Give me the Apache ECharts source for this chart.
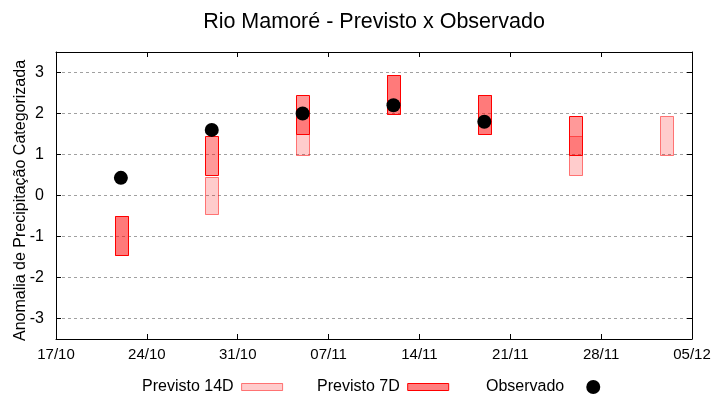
<!DOCTYPE html>
<html>
<head>
<meta charset="utf-8">
<script src="https://cdn.jsdelivr.net/npm/echarts@6/dist/echarts.min.js"></script>
<style>html,body{margin:0;padding:0;background:#fff}#c{width:720px;height:400px}</style>
</head>
<body>
<div id="c"></div>
<script>
// ---- data ----
const startDate = '17/10';
const tickLabels = ['17/10', '24/10', '31/10', '07/11', '14/11', '21/11', '28/11', '05/12'];
const dates = ['22/10', '29/10', '05/11', '12/11', '19/11', '26/11', '03/12'];
const fc14Low  = [-1.45, -0.45, 1.0, 2.0, 1.5, 0.5, 1.0];
const fc14High = [-0.5, 0.45, 1.95, 2.95, 2.45, 1.45, 1.95];
const fc7Low   = [-1.45, 0.5, 1.5, 2.0, 1.5, 1.0, null];
const fc7High  = [-0.5, 1.45, 2.45, 2.95, 2.45, 1.95, null];
const observed = [0.43, 1.6, 2.0, 2.2, 1.8, null, null];
const yTicks = [-3, -2, -1, 0, 1, 2, 3];

function dayOffset(s) {
  const [d, m] = s.split('/').map(Number);
  const [d0, m0] = startDate.split('/').map(Number);
  return Math.round((Date.UTC(2024, m - 1, d) - Date.UTC(2024, m0 - 1, d0)) / 86400000);
}
const xs = dates.map(dayOffset);
const xMax = dayOffset(tickLabels[tickLabels.length - 1]);

function boxData(lo, hi) {
  const out = [];
  xs.forEach((x, i) => { if (lo[i] != null && hi[i] != null) out.push([x, lo[i], hi[i]]); });
  return out;
}
function boxRenderer(fill, stroke) {
  return function (params, api) {
    const x = api.value(0), lo = api.value(1), hi = api.value(2);
    const p1 = api.coord([x, hi]);
    const p2 = api.coord([x, lo]);
    const w = api.size([1, 0])[0] * 0.97;
    return {
      type: 'rect',
      shape: { x: Math.round(p1[0] - w / 2) + 0.5, y: Math.round(p1[1]) + 0.5, width: Math.round(w), height: Math.round(p2[1] - p1[1]) },
      style: { fill: fill, stroke: stroke, lineWidth: 1 }
    };
  };
}

const font = 'Liberation Sans, Arial, sans-serif';
const chart = echarts.init(document.getElementById('c'), null, { renderer: 'canvas' });

const baseX = { type: 'value', min: 0, max: xMax, interval: 7 };
const baseY = { type: 'value', min: -3.5, max: 3.5 };
const line = { show: true, onZero: false, lineStyle: { color: '#000', width: 1 } };

chart.setOption({
  animation: false,
  backgroundColor: '#fff',
  textStyle: { fontFamily: font },
  title: {
    text: 'Rio Mamoré - Previsto x Observado',
    left: 369, top: 6, textAlign: 'center',
    textStyle: { fontFamily: font, fontSize: 21.5, fontWeight: 'normal', color: '#000' }
  },
  grid: { left: 56, right: 28, top: 52, bottom: 61, containLabel: false, outerBoundsMode: 'none' },
  xAxis: [
    Object.assign({}, baseX, {
      position: 'bottom',
      axisLine: line,
      axisTick: { inside: true, length: 5, lineStyle: { color: '#000' } },
      axisLabel: { color: '#000', fontSize: 15, fontFamily: font, margin: 8,
        formatter: v => tickLabels[Math.round(v / 7)] || '' },
      splitLine: { show: false }
    }),
    Object.assign({}, baseX, {
      position: 'top',
      axisLine: line,
      axisTick: { inside: true, length: 5, lineStyle: { color: '#000' } },
      axisLabel: { show: false },
      splitLine: { show: false }
    })
  ],
  yAxis: [
    Object.assign({}, baseY, {
      position: 'left',
      name: 'Anomalia de Precipitação Categorizada',
      nameLocation: 'middle', nameGap: 27, nameMoveOverlap: false,
      nameTextStyle: { color: '#000', fontSize: 16, fontFamily: font, padding: [0, 10, 0, 0] },
      axisLine: line,
      axisTick: { show: true, inside: true, length: 5, customValues: yTicks, lineStyle: { color: '#000' } },
      axisLabel: { color: '#000', fontSize: 16, fontFamily: font, margin: 12, customValues: yTicks },
      splitLine: { show: true, lineStyle: { color: '#a0a0a0', type: [3, 3], width: 1 } }
    }),
    Object.assign({}, baseY, {
      position: 'right',
      axisLine: line,
      axisTick: { show: true, inside: true, length: 5, customValues: yTicks, lineStyle: { color: '#000' } },
      axisLabel: { show: false },
      splitLine: { show: false }
    })
  ],
  legend: [
    { data: [{ name: 'Previsto 14D', icon: 'rect', itemStyle: { color: 'rgba(255,0,0,0.2)', borderColor: 'rgba(255,0,0,0.5)', borderWidth: 1 } }],
      left: 137, top: 374, align: 'right', itemWidth: 41, itemHeight: 7, selectedMode: false,
      textStyle: { color: '#000', fontSize: 16, fontFamily: font, padding: [0, 3, 0, 0] } },
    { data: [{ name: 'Previsto 7D', icon: 'rect', itemStyle: { color: 'rgba(255,0,0,0.5)', borderColor: '#ff0000', borderWidth: 1 } }],
      left: 312, top: 374, align: 'right', itemWidth: 41, itemHeight: 7, selectedMode: false,
      textStyle: { color: '#000', fontSize: 16, fontFamily: font, padding: [0, 3, 0, 0] } },
    { data: [{ name: 'Observado', icon: 'circle', itemStyle: { color: '#000', opacity: 1 } }],
      left: 481, top: 374, align: 'right', itemWidth: 48, itemHeight: 14, selectedMode: false,
      textStyle: { color: '#000', fontSize: 16, fontFamily: font } }
  ],
  series: [
    { name: 'Previsto 14D', type: 'custom', xAxisIndex: 0, yAxisIndex: 0,
      renderItem: boxRenderer('rgba(255,0,0,0.2)', 'rgba(255,0,0,0.5)'),
      encode: { x: 0, y: [1, 2] }, data: boxData(fc14Low, fc14High), z: 2,
      itemStyle: { color: 'rgba(255,0,0,0.2)' } },
    { name: 'Previsto 7D', type: 'custom', xAxisIndex: 0, yAxisIndex: 0,
      renderItem: boxRenderer('rgba(255,0,0,0.4)', '#ff0000'),
      encode: { x: 0, y: [1, 2] }, data: boxData(fc7Low, fc7High), z: 3,
      itemStyle: { color: 'rgba(255,0,0,0.4)' } },
    { name: 'Observado', type: 'scatter', xAxisIndex: 0, yAxisIndex: 0,
      symbol: 'circle', symbolSize: 14, itemStyle: { color: '#000', opacity: 1 }, z: 4,
      data: xs.map((x, i) => observed[i] == null ? null : [x, observed[i]]).filter(d => d) }
  ]
});
</script>
</body>
</html>
